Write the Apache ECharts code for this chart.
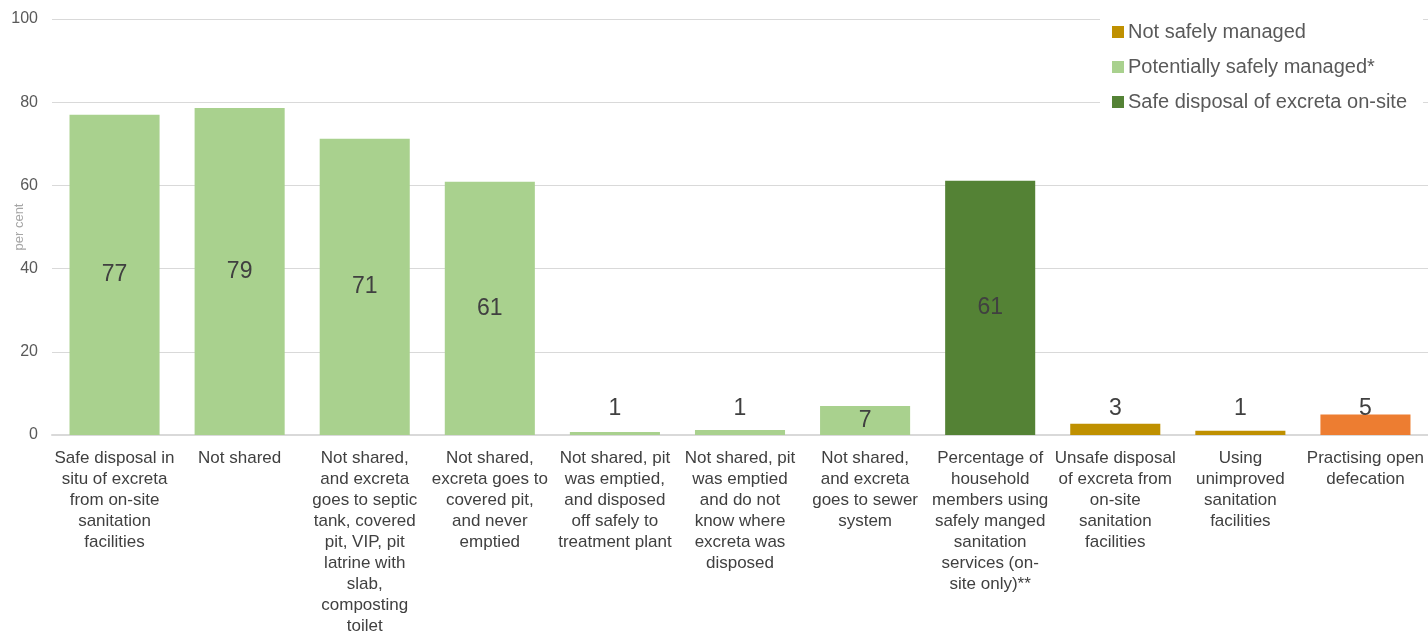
<!DOCTYPE html>
<html>
<head>
<meta charset="utf-8">
<style>
  html, body { margin: 0; padding: 0; background: #fff; }
  #chart { width: 1428px; height: 635px; }
</style>
<script src="https://cdn.jsdelivr.net/npm/echarts@6/dist/echarts.min.js"></script>
</head>
<body>
<div id="chart"></div>
<script>
// Category labels (line breaks as laid out under each bar)
const categories = [
  'Safe disposal in\nsitu of excreta\nfrom on-site\nsanitation\nfacilities',
  'Not shared',
  'Not shared,\nand excreta\ngoes to septic\ntank, covered\npit, VIP, pit\nlatrine with\nslab,\ncomposting\ntoilet',
  'Not shared,\nexcreta goes to\ncovered pit,\nand never\nemptied',
  'Not shared, pit\nwas emptied,\nand disposed\noff safely to\ntreatment plant',
  'Not shared, pit\nwas emptied\nand do not\nknow where\nexcreta was\ndisposed',
  'Not shared,\nand excreta\ngoes to sewer\nsystem',
  'Percentage of\nhousehold\nmembers using\nsafely manged\nsanitation\nservices (on-\nsite only)**',
  'Unsafe disposal\nof excreta from\non-site\nsanitation\nfacilities',
  'Using\nunimproved\nsanitation\nfacilities',
  'Practising open\ndefecation'
];

// Per cent values by group ('-' = no bar in that category)
const notSafelyManaged     = ['-', '-', '-', '-', '-', '-', '-', '-', 2.7, 1.0, '-'];
const potentiallySafe      = [77.0, 78.6, 71.2, 60.9, 0.7, 1.2, 7.0, '-', '-', '-', '-'];
const safeDisposalOnSite   = ['-', '-', '-', '-', '-', '-', '-', 61.1, '-', '-', '-'];
const openDefecation       = ['-', '-', '-', '-', '-', '-', '-', '-', '-', '-', 4.9];

const yTicks = { min: 0, max: 100, interval: 20 };

const labelFont = 'Liberation Sans, Arial, sans-serif';

// Large bars carry their label in the middle; short ones just above the baseline area
function withLabels(values) {
  return values.map(v => {
    if (v === '-') return v;
    if (v >= 6) {
      return { value: v, label: { position: 'inside' } };
    }
    return { value: v, label: { position: 'insideBottom', distance: 15 } };
  });
}

const labelStyle = {
  show: true,
  color: '#404040',
  fontSize: 23,
  fontFamily: labelFont,
  formatter: p => Math.round(p.value)
};

function barSeries(name, values, color) {
  return {
    name: name,
    type: 'bar',
    stack: 'all',
    data: withLabels(values),
    itemStyle: { color: color },
    label: labelStyle,
    barCategoryGap: '28%'
  };
}

const chart = echarts.init(document.getElementById('chart'), null, { renderer: 'canvas' });

chart.setOption({
  animation: false,
  backgroundColor: '#fff',
  textStyle: { fontFamily: labelFont },
  grid: { left: 52, right: 0, top: 19, bottom: 200, containLabel: false, outerBoundsMode: 'none' },
  legend: {
    data: ['Not safely managed', 'Potentially safely managed*', 'Safe disposal of excreta on-site'],
    orient: 'vertical',
    left: 1100,
    top: 16,
    backgroundColor: '#fff',
    padding: [6, 16, 6, 12],
    itemGap: 15,
    itemWidth: 12,
    itemHeight: 12,
    icon: 'rect',
    textStyle: { color: '#595959', fontSize: 20, fontFamily: labelFont, padding: [0, 0, 0, -1] }
  },
  xAxis: {
    type: 'category',
    data: categories,
    axisLine: { lineStyle: { color: '#D9D9D9', width: 2 } },
    axisTick: { show: false },
    axisLabel: {
      interval: 0,
      color: '#404040',
      fontSize: 17,
      lineHeight: 21,
      margin: 13,
      fontFamily: labelFont
    }
  },
  yAxis: {
    type: 'value',
    min: yTicks.min,
    max: yTicks.max,
    interval: yTicks.interval,
    name: 'per cent',
    nameLocation: 'middle',
    nameGap: 26,
    nameMoveOverlap: false,
    nameTextStyle: { color: '#A6A6A6', fontSize: 13, fontFamily: labelFont },
    axisLine: { show: false },
    axisTick: { show: false },
    axisLabel: { color: '#595959', fontSize: 16, margin: 14, fontFamily: labelFont },
    splitLine: { lineStyle: { color: '#D9D9D9', width: 1 } }
  },
  series: [
    barSeries('Not safely managed', notSafelyManaged, '#BF9000'),
    barSeries('Potentially safely managed*', potentiallySafe, '#A9D18E'),
    barSeries('Safe disposal of excreta on-site', safeDisposalOnSite, '#548235'),
    barSeries('Practising open defecation', openDefecation, '#ED7D31')
  ]
});
</script>
</body>
</html>
